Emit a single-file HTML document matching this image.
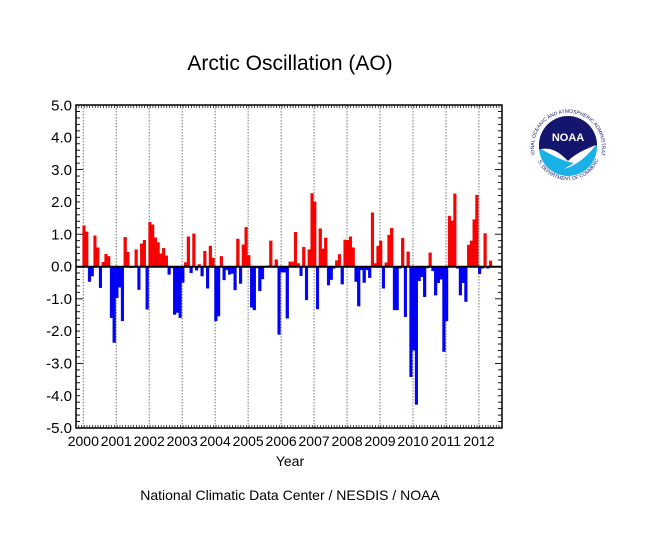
<!DOCTYPE html>
<html><head><meta charset="utf-8"><style>
html,body{margin:0;padding:0;background:#fff;}
svg{display:block;font-family:"Liberation Sans",sans-serif;}
</style></head><body>
<svg id="s" width="650" height="534" viewBox="0 0 650 534" xmlns="http://www.w3.org/2000/svg">
<defs>
<path id="arcTop" d="M-33,8 A34,34 0 1,1 33,8"/>
<path id="arcBot" d="M-30,14 A33,33 0 0,0 30,14"/>
</defs>
<rect width="650" height="534" fill="#fff"/>
<text x="290" y="70" font-size="21" text-anchor="middle" fill="#000">Arctic Oscillation (AO)</text>
<g id="grid"></g>
<g id="bars"></g>
<line x1="76" y1="266.7" x2="502" y2="266.7" stroke="#000" stroke-width="2"/>
<rect x="76" y="105" width="426" height="323" fill="none" stroke="#000" stroke-width="1.5"/>
<g id="ticks"></g>
<g id="labels" font-size="14" fill="#000"></g>
<text x="290" y="466" font-size="14" text-anchor="middle">Year</text>
<text x="290" y="500" font-size="14" text-anchor="middle">National Climatic Data Center / NESDIS / NOAA</text>
<g transform="translate(568,147)">
<circle r="29" fill="#1ab0e8"/>
<path d="M-29,0 A29,29 0 0,1 29,0 L29,-2 C18,4 8,6 0,14 C-8,6 -18,2 -29,2 Z" fill="#14166e"/>
<path d="M-29,-2 A29,29 0 0,1 29,-2 C18,2 8,6 0,14 C-8,6 -18,0 -29,0 Z" fill="#14166e"/>
<path d="M-27,2 C-14,0 -6,8 0,14 C8,6 18,2 28,-2 C20,8 10,18 -4,22 L6,16 C-6,14 -16,8 -27,2 Z" fill="#fff"/>
<text x="0" y="-6" font-size="11" font-weight="bold" fill="#fff" text-anchor="middle">NOAA</text>
<text font-size="5" fill="#14166e"><textPath href="#arcTop" startOffset="50%" text-anchor="middle">NATIONAL OCEANIC AND ATMOSPHERIC ADMINISTRATION</textPath></text>
<text font-size="5" fill="#14166e"><textPath href="#arcBot" startOffset="50%" text-anchor="middle">U.S. DEPARTMENT OF COMMERCE</textPath></text>
</g>
</svg>
<script>
var d={
2000:[1.27,1.08,-0.46,-0.29,0.96,0.59,-0.65,0.14,0.39,0.32,-1.58,-2.35],
2001:[-0.96,-0.64,-1.68,0.91,0.45,-0.03,-0.02,0.53,-0.71,0.71,0.82,-1.32],
2002:[1.38,1.30,0.90,0.75,0.40,0.57,0.34,-0.24,-0.04,-1.48,-1.42,-1.58],
2003:[-0.49,0.13,0.93,-0.19,1.02,-0.11,0.07,-0.29,0.48,-0.67,0.64,0.27],
2004:[-1.68,-1.53,0.32,-0.41,-0.10,-0.24,-0.21,-0.72,0.86,-0.52,0.68,1.22],
2005:[0.35,-1.26,-1.34,-0.04,-0.75,-0.38,-0.02,0.03,0.80,0.03,0.22,-2.10],
2006:[-0.17,-0.17,-1.60,0.15,0.15,1.07,0.10,-0.28,0.60,-1.03,0.53,2.27],
2007:[2.01,-1.31,1.18,0.55,0.89,-0.57,-0.40,-0.05,0.19,0.38,-0.54,0.83],
2008:[0.82,0.93,0.59,-0.46,-1.22,-0.10,-0.49,-0.10,-0.34,1.67,0.10,0.64],
2009:[0.80,-0.67,0.12,0.98,1.19,-1.34,-1.34,-0.05,0.88,-1.55,0.46,-3.41],
2010:[-2.59,-4.27,-0.44,-0.31,-0.93,-0.04,0.43,-0.13,-0.88,-0.50,-0.39,-2.63],
2011:[-1.68,1.57,1.42,2.26,-0.05,-0.88,-0.50,-1.08,0.67,0.80,1.46,2.22],
2012:[-0.22,-0.05,1.03,-0.05,0.18]};
var NS="http://www.w3.org/2000/svg";
function el(p,t,a){var e=document.createElementNS(NS,t);for(var k in a)e.setAttribute(k,a[k]);p.appendChild(e);return e;}
var bars=document.getElementById('bars'),grid=document.getElementById('grid'),ticks=document.getElementById('ticks'),labs=document.getElementById('labels');
var z=266.7,u=32.27,yw=32.97,mw=2.747,x0=82.6;
for(var Y=2000;Y<=2012;Y++){
 var lx=x0+yw*(Y-2000)+0.7;
 el(grid,'line',{x1:lx,y1:105,x2:lx,y2:428,stroke:'#777','stroke-width':1,'stroke-dasharray':'1.5,1.5'});
 var t=el(labs,'text',{x:lx,y:446,'text-anchor':'middle'});t.textContent=Y;
 var a=d[Y];
 for(var m=0;m<a.length;m++){
  var v=a[m];var x=x0+yw*(Y-2000)+mw*m;var h=Math.abs(v)*u;
  el(bars,'rect',{x:x,y:v>0?z-h:z,width:mw,height:h,fill:v>0?'#ff0000':'#0000ff',stroke:v>0?'#d00':'#00c','stroke-width':0.4});
 }
}
for(var x=76+mw;x<502;x+=mw){
 el(ticks,'line',{x1:x,y1:105,x2:x,y2:108,stroke:'#000','stroke-width':0.7});
 el(ticks,'line',{x1:x,y1:428,x2:x,y2:425,stroke:'#000','stroke-width':0.7});
}
for(var i=0;i<=50;i++){
 var y=105+i*323/50;var L=(i%10==0)?7:4;
 el(ticks,'line',{x1:76,y1:y,x2:76+L,y2:y,stroke:'#000','stroke-width':0.9});
 el(ticks,'line',{x1:502,y1:y,x2:502-L,y2:y,stroke:'#000','stroke-width':0.9});
}
for(var v=5;v>=-5;v--){
 var y=z-v*u;var t=el(labs,'text',{x:72,y:y+5,'text-anchor':'end','font-size':15});t.textContent=v.toFixed(1);
}
</script>
</body></html>
